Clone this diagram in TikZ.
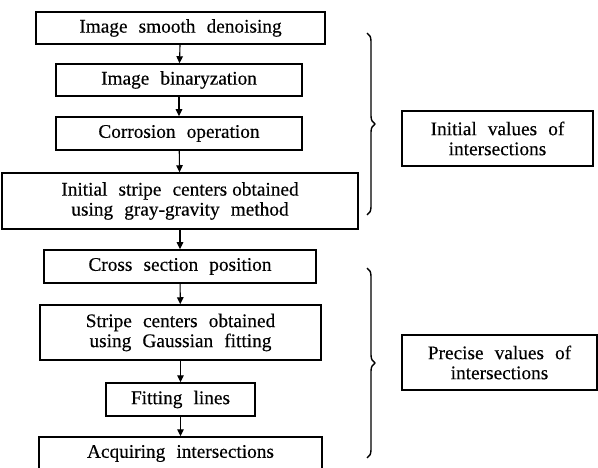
\documentclass[tikz,border=0pt]{standalone}
\usepackage{fontspec}
\setmainfont{Liberation Serif}[WordSpace=2.3, FakeBold=0.3]
\usetikzlibrary{arrows.meta,decorations.pathreplacing}
\begin{document}
\begin{tikzpicture}[x=1pt,y=-1pt,
  stepbox/.style={draw, line width=1.5pt, inner sep=0pt, align=center,
    font=\fontsize{19.3}{20}\selectfont},
  flow/.style={-{Triangle[length=7pt,width=6.5pt]}, line width=1.1pt},
  grp/.style={decorate, decoration={brace, amplitude=8pt}, line width=1.4pt}]
\clip (0,0) rectangle (598,468);
\fill[white] (0,0) rectangle (598,468);

% processing chain
\node[stepbox, minimum width=289pt, minimum height=32pt] (n1) at (180.5,28) {Image smooth denoising};
\node[stepbox, minimum width=246pt, minimum height=32pt] (n2) at (179,80) {Image binaryzation};
\node[stepbox, minimum width=246pt, minimum height=33pt] (n3) at (179,133.5) {Corrosion operation};
\node[stepbox, minimum width=356pt, minimum height=56pt] (n4) at (180,201) {Initial stripe centers\hspace{5pt}obtained\\using gray-gravity method};
\node[stepbox, minimum width=272pt, minimum height=33pt] (n5) at (180,266.5) {Cross section position};
\node[stepbox, minimum width=281pt, minimum height=55pt] (n6) at (180.5,332.5) {Stripe centers obtained\\using Gaussian fitting};
\node[stepbox, minimum width=149pt, minimum height=33pt] (n7) at (180.5,399.5) {Fitting lines};
\node[stepbox, minimum width=283pt, minimum height=33pt] (n8) at (180.5,453.5) {Acquiring intersections};

\draw[flow] (n1) -- (n2);
\draw[flow] (n2) -- (n3);
\draw[flow] (n3) -- (n4);
\draw[flow] (n4) -- (n5);
\draw[flow] (n5) -- (n6);
\draw[flow] (n6) -- (n7);
\draw[flow] (n7) -- (n8);

% grouping braces and their results
\coordinate (b1t) at (367,33);
\coordinate (b1b) at (367,215);
\coordinate (b2t) at (367,268);
\coordinate (b2b) at (367,458);
\draw[grp] (b1t) -- (b1b);
\draw[grp] (b2t) -- (b2b);

\node[stepbox, minimum width=191pt, minimum height=55pt] (r1) at (497.5,138.5) {Initial values of\\intersections};
\node[stepbox, minimum width=195pt, minimum height=55pt] (r2) at (499.5,362.5) {Precise values of\\intersections};
\end{tikzpicture}
\end{document}
